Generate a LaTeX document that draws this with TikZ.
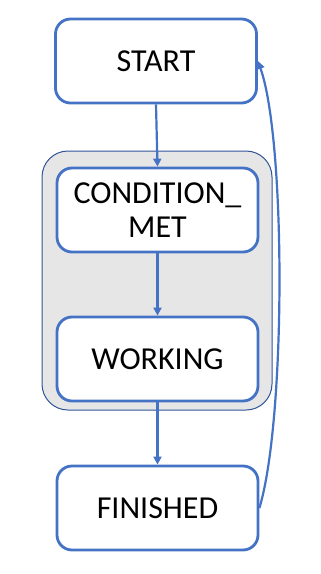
\documentclass[tikz,border=0pt]{standalone}
\usepackage{fontspec}
\setmainfont{Carlito}
\usepackage{tikz}
\usetikzlibrary{arrows.meta,positioning}
\definecolor{stateBlue}{RGB}{68,114,196}
\definecolor{groupBlue}{RGB}{47,85,151}
\definecolor{groupGray}{RGB}{231,230,230}

\tikzset{
  statebox/.style={draw=stateBlue, fill=white, line width=2.8pt, rounded corners=15pt,
    minimum width=201pt, minimum height=84pt, align=center,
    font=\fontsize{32}{34}\selectfont},
  flow/.style={stateBlue, line width=2.2pt, -{Triangle[length=8pt,width=8pt]}}
}

\begin{document}
\begin{tikzpicture}[x=1pt, y=-1pt]
\useasboundingbox (0,0) rectangle (321,574);

\node[draw=groupBlue, fill=groupGray, line width=1pt, rounded corners=26pt,
  minimum width=230pt, minimum height=259pt] (group) at (157,280.5) {};

\node[statebox] (start) at (156,61) {START};
\node[statebox] (cond) at (157.5,210) {CONDITION\_\\MET};
\node[statebox] (work) at (157.5,359) {WORKING};
\node[statebox] (fin) at (157.5,508) {FINISHED};

\draw[flow] (start.south) -- (cond.north);
\draw[flow] (cond.south) -- (work.north);
\draw[flow] (work.south) -- (fin.north);
\draw[flow] (fin.east) .. controls (286,420) and (286,140) .. (start.east);
\end{tikzpicture}
\end{document}
